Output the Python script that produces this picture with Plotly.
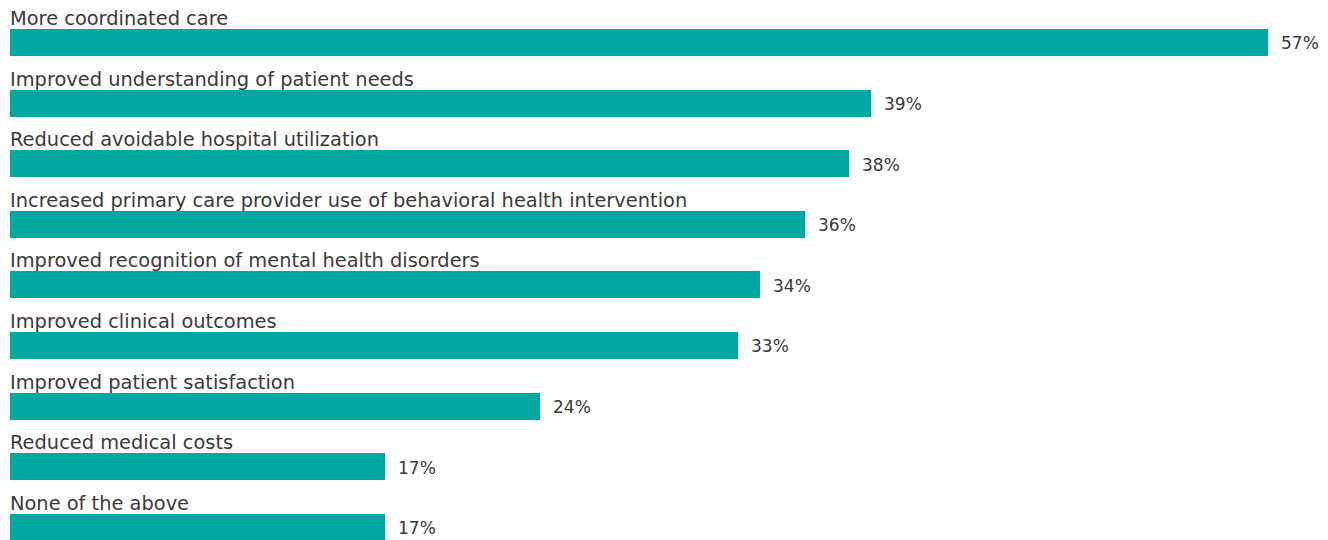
import plotly.graph_objects as go

categories = [
    "More coordinated care",
    "Improved understanding of patient needs",
    "Reduced avoidable hospital utilization",
    "Increased primary care provider use of behavioral health intervention",
    "Improved recognition of mental health disorders",
    "Improved clinical outcomes",
    "Improved patient satisfaction",
    "Reduced medical costs",
    "None of the above",
]
values = [57, 39, 38, 36, 34, 33, 24, 17, 17]
value_labels = ["57%", "39%", "38%", "36%", "34%", "33%", "24%", "17%", "17%"]

BAR_COLOR = "#00A8A4"
TEXT_COLOR = "#3a3a3a"
FONT = "DejaVu Sans"

positions = list(range(len(categories)))
bar_w = 0.446

fig = go.Figure()
fig.add_trace(go.Bar(
    x=values, y=positions, orientation="h", width=bar_w,
    marker=dict(color=BAR_COLOR, line=dict(width=0)),
    hoverinfo="skip",
))

annotations = []
for p, cat, v, lab in zip(positions, categories, values, value_labels):
    annotations.append(dict(
        x=0, y=p - bar_w / 2, xref="x", yref="y", text=cat, showarrow=False,
        xanchor="left", yanchor="bottom", yshift=-3, xshift=-2,
        font=dict(family=FONT, size=19.4, color=TEXT_COLOR),
    ))
    annotations.append(dict(
        x=v, y=p, xref="x", yref="y", text=lab, showarrow=False,
        xanchor="left", yanchor="middle", xshift=11, yshift=-1,
        font=dict(family=FONT, size=17, color=TEXT_COLOR),
    ))

fig.update_layout(
    width=1328, height=540,
    margin=dict(l=10, r=0, t=0, b=0),
    paper_bgcolor="white", plot_bgcolor="white",
    showlegend=False,
    bargap=0,
    annotations=annotations,
    xaxis=dict(range=[0, 59.72], visible=False, fixedrange=True),
    yaxis=dict(range=[8.21, -0.701], visible=False, fixedrange=True),
)

fig.write_html("out.html")
